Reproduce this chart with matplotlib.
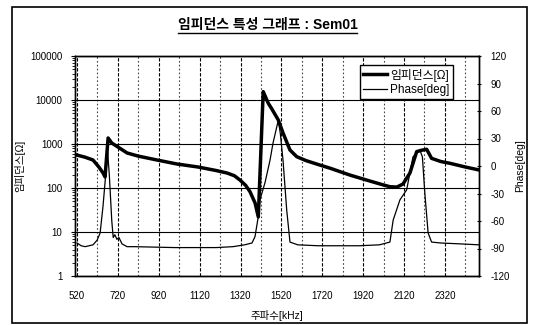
import matplotlib
matplotlib.use('Agg')
import numpy as np
import matplotlib.pyplot as plt
from matplotlib.lines import Line2D
from matplotlib.patches import Rectangle
from matplotlib.ticker import FixedLocator, NullFormatter, LogLocator

plt.rcParams['font.family'] = ['Liberation Sans', 'Noto Sans CJK KR', 'DejaVu Sans']
plt.rcParams['axes.unicode_minus'] = False

# impedance (ohm) vs frequency (kHz)
freq_z = [520, 560, 598, 627, 647, 657, 672, 690, 720, 765, 820, 911, 1009, 1112,
          1200, 1254, 1290, 1317, 1345, 1366, 1391, 1407, 1431, 1456, 1472, 1505,
          1528, 1562, 1595, 1640, 1692, 1760, 1855, 1940, 2017, 2051, 2085, 2115,
          2149, 2182, 2205, 2231, 2255, 2300, 2345, 2420, 2487]
imp = [560, 500, 433, 300, 220, 178, 1370, 1050, 855, 625, 530, 433, 351, 300,
       250, 219, 190, 152, 115, 83, 46, 22, 15500, 8400, 6400, 3500,
       1780, 730, 515, 420, 351, 280, 197, 150, 118, 107, 105, 123,
       219, 670, 720, 757, 472, 400, 364, 300, 257]

# phase (deg) vs frequency (kHz)
freq_p = [520, 540, 560, 598, 618, 633, 647, 662, 670, 678, 690, 697, 705, 715,
          725, 740, 765, 800, 1000, 1200, 1283, 1340, 1376, 1391, 1407, 1415, 1440,
          1464, 1479, 1505, 1515, 1528, 1546, 1562, 1600, 1700, 1800, 1900, 2000,
          2051, 2067, 2100, 2133, 2164, 2198, 2210, 2222, 2238, 2255, 2300, 2400, 2487]
phase = [-84, -87, -88, -86, -81, -73, -44, -5, 15, -10, -60, -78, -75, -80,
         -78, -85, -88, -88, -89, -89, -88, -86, -84, -77, -55, -37, -18,
         6, 25, 50, 35, 6, -48, -83, -86, -87, -87, -87, -86,
         -83, -59, -37, -26, 10, 17, 10, -30, -73, -83, -84, -85, -86]

x_ticks = [520, 720, 920, 1120, 1320, 1520, 1720, 1920, 2120, 2320]
x_minor = [620, 820, 1020, 1220, 1420, 1620, 1820, 2020, 2220, 2420]
phase_ticks = [-120, -90, -60, -30, 0, 30, 60, 90, 120]

W, H = 535, 325
fig = plt.figure(figsize=(W / 100, H / 100), dpi=100)
ax = fig.add_axes([75 / W, 1 - 276 / H, 404 / W, 220 / H])

ax.plot(freq_z, imp, color='black', lw=2.5, label='임피던스[Ω]', zorder=3)
ax.set_yscale('log')
ax.set_ylim(1, 100000)
ax.set_xlim(510, 2487)
ax.set_yticks([1, 10, 100, 1000, 10000, 100000])
ax.set_yticklabels(['1', '10', '100', '1000', '10000', '100000'])
ax.yaxis.set_minor_locator(LogLocator(base=10, subs=np.arange(2, 10)))
ax.yaxis.set_minor_formatter(NullFormatter())
ax.set_xticks(x_ticks)
ax.xaxis.set_minor_locator(FixedLocator(x_minor))

ax.grid(True, which='major', axis='y', color='black', lw=0.8, ls='-')
ax.grid(True, which='major', axis='x', color='black', lw=0.8, ls=(0, (3, 1.5)))
ax.grid(True, which='minor', axis='x', color='#444444', lw=0.8, ls=(0, (1.5, 2)))
ax.set_axisbelow(True)

ax.tick_params(axis='y', which='major', labelsize=7, length=3, pad=6)
ax.tick_params(axis='y', which='minor', length=2)
ax.tick_params(axis='x', which='major', labelsize=7, length=0, pad=11)
ax.tick_params(axis='x', which='minor', length=0)

ax2 = ax.twinx()
ax2.plot(freq_p, phase, color='black', lw=0.9, label='Phase[deg]', zorder=3)
ax2.set_ylim(-120, 120)
ax2.set_yticks(phase_ticks)
ax2.tick_params(axis='y', labelsize=7, length=3, direction='inout', pad=7)

for a in (ax, ax2):
    for s in a.spines.values():
        s.set_color('black')
        s.set_linewidth(1.0)

ax.set_ylabel('임피던스[Ω]', fontsize=7.5)
ax.yaxis.set_label_coords(-50 / 404, 0.5)
ax2.set_ylabel('Phase[deg]', fontsize=7.5, rotation=90)
ax2.yaxis.set_label_coords(1 + 36 / 404, 0.5)
ax.set_xlabel('주파수[kHz]', fontsize=7.5)
ax.xaxis.set_label_coords(0.5, -34 / 220)

h1, l1 = ax.get_legend_handles_labels()
h2, l2 = ax2.get_legend_handles_labels()
leg = ax2.legend(h1 + h2, l1 + l2, loc='upper right', bbox_to_anchor=(0.936, 0.959),
                 borderaxespad=0, fontsize=8.5, fancybox=False, framealpha=1,
                 edgecolor='black', handlelength=2.0, handletextpad=0.3,
                 borderpad=0.3, labelspacing=0.2)
leg.get_frame().set_linewidth(1.0)

title = fig.text(0.5, 1 - 25 / H, '임피던스 특성 그래프 : Sem01', ha='center', va='center',
                 fontsize=10, fontweight='bold')

# outer frame
fig.patches.append(Rectangle((12 / W, 1 - 323 / H), 515 / W, 316 / H,
                             transform=fig.transFigure, fill=False,
                             edgecolor='black', lw=1.2))

# underline the title
fig.canvas.draw()
bb = title.get_window_extent().transformed(fig.transFigure.inverted())
fig.add_artist(Line2D([bb.x0, bb.x1], [bb.y0 - 1 / H, bb.y0 - 1 / H],
                      transform=fig.transFigure, color='black', lw=1.0))

fig.savefig('out.png', dpi=100)
